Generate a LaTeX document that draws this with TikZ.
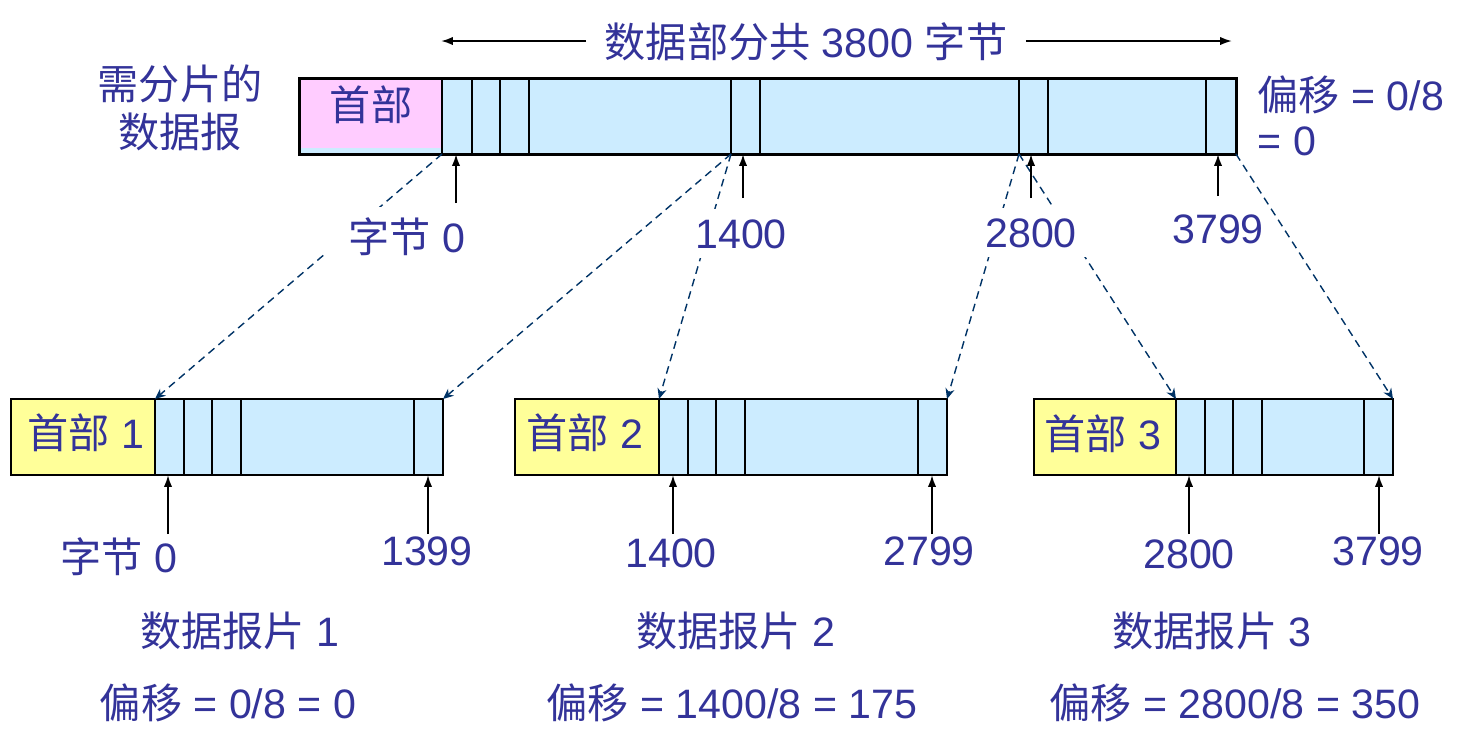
\documentclass[tikz,border=0pt]{standalone}
\usepackage{fontspec}
\setmainfont{Liberation Sans}
\newfontfamily\cjk{Noto Sans CJK SC}
\usetikzlibrary{arrows.meta}
\definecolor{txtblue}{RGB}{51,51,153}
\definecolor{hdrpink}{RGB}{255,204,255}
\definecolor{datblue}{RGB}{204,236,255}
\definecolor{hdryellow}{RGB}{255,255,153}
\definecolor{dashblue}{RGB}{0,51,102}
\tikzset{
	lbl/.style={anchor=base, text=txtblue, inner sep=0pt, font=\fontsize{11.7}{14}\selectfont},
	masklbl/.style={lbl, fill=white, inner xsep=0.25cm, inner ysep=0.1cm},
	dline/.style={dashblue, line width=0.4pt, dash pattern=on 2.2pt off 1.5pt, -{Stealth[length=3pt,width=2.6pt]}},
	uparrow/.style={line width=0.55pt, -{Latex[length=3.4pt,width=2.4pt]}},
}

\begin{document}
\begin{tikzpicture}[x=0.01cm, y=-0.01cm]
		%%%%% START %%%%%
		\useasboundingbox (0,0) rectangle (1467,753);
		
		% datagram before fragmentation
		\fill[datblue] (299,78) rectangle (1236,154);
		\fill[hdrpink] (299,78) rectangle (442,148);
		\foreach \x in {442,472,500,529,731,760,1019,1048,1206}
			\draw[line width=0.2mm] (\x,78) -- (\x,154);
		\draw[line width=0.3mm] (299,78) rectangle (1236,154);
		
		\node[lbl] (hdr) at (371,120) {\cjk 首部};
		\node[lbl] (dgA) at (180,99) {\cjk 需分片的};
		\node[lbl] (dgB) at (180,147) {\cjk 数据报};
		\node[lbl, anchor=base west] (offA) at (1257,110) {{\cjk 偏移} = 0/8};
		\node[lbl, anchor=base west] (offB) at (1257,155) {= 0};
		
		% total length
		\node[lbl, inner xsep=0.18cm] (title) at (806,57) {{\cjk 数据部分共} 3800 {\cjk 字节}};
		\coordinate (tl) at (441,41);
		\coordinate (tr) at (1232,41);
		\draw[uparrow] (title.west |- tl) -- (tl);
		\draw[uparrow] (title.east |- tr) -- (tr);
		
		% fragments
		\foreach \l/\h/\r in {11/155/443,515/659/947,1034/1176/1393} {
			\fill[hdryellow] (\l,399) rectangle (\h,475);
			\fill[datblue] (\h,399) rectangle (\r,475);
			\foreach \d in {0,29,57,86}
				\draw[line width=0.2mm] (\h+\d,399) -- (\h+\d,475);
			\draw[line width=0.2mm] (\r-29,399) -- (\r-29,475);
			\draw[line width=0.25mm] (\l,399) rectangle (\r,475);
		}
		
		% dashed mapping lines
		\coordinate (s0) at (442,154);
		\coordinate (s1) at (731,154);
		\coordinate (s2) at (1019,154);
		\coordinate (s3) at (1236,154);
		\coordinate (f1a) at (155,399);
		\coordinate (f1b) at (443,399);
		\coordinate (f2a) at (659,399);
		\coordinate (f2b) at (947,399);
		\coordinate (f3a) at (1176,399);
		\coordinate (f3b) at (1393,399);
		\draw[dline] (s0) -- (f1a);
		\draw[dline] (s1) -- (f1b);
		\draw[dline] (s1) -- (f2a);
		\draw[dline] (s2) -- (f2b);
		\draw[dline] (s2) -- (f3a);
		\draw[dline] (s3) -- (f3b);
		
		% byte marks on the datagram
		\node[masklbl] (bA) at (407,252) {{\cjk 字节} 0};
		\node[masklbl] (bB) at (741,248) {1400};
		\node[masklbl] (bC) at (1031,247) {2800};
		\node[lbl] (bD) at (1218,243) {3799};
		\foreach \x/\y [count=\i] in {456/203,743/198,1031/198,1218/196} {
			\coordinate (ua\i) at (\x,\y);
			\coordinate (va\i) at (\x,154);
			\draw[uparrow] (ua\i) -- (va\i);
		}
		
		% byte marks on the fragments
		\node[lbl] (hA) at (86,448) {{\cjk 首部} 1};
		\node[lbl] (hB) at (585,448) {{\cjk 首部} 2};
		\node[lbl] (hC) at (1103,449) {{\cjk 首部} 3};
		
		\foreach \x [count=\i] in {168,428,673,932,1189,1379} {
			\coordinate (ub\i) at (\x,534);
			\coordinate (vb\i) at (\x,475);
			\draw[uparrow] (ub\i) -- (vb\i);
		}
		\node[lbl] (cA) at (119,572) {{\cjk 字节} 0};
		\node[lbl] (cB) at (427,565) {1399};
		\node[lbl] (cC) at (671,567) {1400};
		\node[lbl] (cD) at (929,565) {2799};
		\node[lbl] (cE) at (1189,568) {2800};
		\node[lbl] (cF) at (1378,565) {3799};
		
		\node[lbl] (fA) at (240,646) {{\cjk 数据报片} 1};
		\node[lbl] (fB) at (736,646) {{\cjk 数据报片} 2};
		\node[lbl] (fC) at (1212,646) {{\cjk 数据报片} 3};
		\node[lbl] (oA) at (228,718) {{\cjk 偏移} = 0/8 = 0};
		\node[lbl] (oB) at (732,718) {{\cjk 偏移} = 1400/8 = 175};
		\node[lbl] (oC) at (1235,718) {{\cjk 偏移} = 2800/8 = 350};
		
		%%%%% END %%%%%
\end{tikzpicture}
\end{document}
